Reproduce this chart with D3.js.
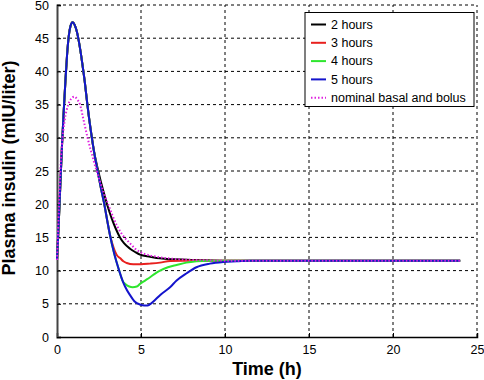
<!DOCTYPE html>
<html><head><meta charset="utf-8">
<script src="https://cdn.jsdelivr.net/npm/d3@7/dist/d3.min.js"></script>
<style>body{margin:0;background:#fff}svg{display:block}</style>
</head><body>
<svg id="c" width="484" height="380"></svg>
<script>
// ---- data ----
const xTicks = [0,5,10,15,20,25];
const yTicks = [0,5,10,15,20,25,30,35,40,45,50];
const seriesNames = ["2 hours","3 hours","4 hours","5 hours","nominal basal and bolus"];

const tBlue = [0,0.1,0.2,0.3,0.4,0.5,0.6,0.7,0.8,0.93,1.05,1.2,1.35,1.5,1.65,1.8,2.0,2.2,2.4,2.6,2.8,3.0,3.15,3.4,3.7,3.9,4.05,4.35,4.64,4.94,5.2,5.4,5.63,5.85,6.13,6.73,7.12,7.72,8.3,9.1,9.9,10.7,11.5,24];
const vBlue = [11.6,17,23,29,34,38.5,42.5,45.3,46.8,47.4,47.0,45.8,43.8,41.3,38.5,35.2,31.3,28.0,25.2,22.6,20.2,17.4,15.4,12.6,10.0,8.5,7.6,6.3,5.3,4.9,4.75,4.75,5.1,5.6,6.3,7.5,8.5,9.6,10.5,11.05,11.3,11.4,11.5,11.5];

const tBlack = [0,0.1,0.2,0.3,0.4,0.5,0.6,0.7,0.8,0.93,1.05,1.2,1.35,1.5,1.65,1.8,2.0,2.2,2.4,2.6,2.8,3.0,3.25,3.5,3.75,4.0,4.35,4.65,4.94,5.54,6.13,7,8,9,10,24];
const vBlack = [11.6,17,23,29,34,38.5,42.5,45.3,46.8,47.4,47.0,45.8,43.8,41.3,38.5,35.2,31.3,28.0,25.6,23.5,21.6,19.8,17.9,16.3,15.0,14.1,13.3,12.8,12.4,12.1,11.85,11.7,11.6,11.55,11.5,11.5];

const tRed = [0,0.1,0.2,0.3,0.4,0.5,0.6,0.7,0.8,0.93,1.05,1.2,1.35,1.5,1.65,1.8,2.0,2.2,2.4,2.6,2.8,3.0,3.15,3.3,3.45,3.6,3.75,3.95,4.15,4.54,5.0,5.54,6.13,6.73,7.5,24];
const vRed = [11.6,17,23,29,34,38.5,42.5,45.3,46.8,47.4,47.0,45.8,43.8,41.3,38.5,35.2,31.3,28.0,25.2,22.6,20.2,17.4,15.4,14.0,12.9,12.2,11.9,11.4,11.15,10.95,10.95,11.05,11.2,11.45,11.5,11.5];

const tGreen = [0,0.1,0.2,0.3,0.4,0.5,0.6,0.7,0.8,0.93,1.05,1.2,1.35,1.5,1.65,1.8,2.0,2.2,2.4,2.6,2.8,3.0,3.15,3.4,3.7,3.9,4.1,4.3,4.5,4.75,4.94,5.24,5.54,5.84,6.13,6.6,7.12,7.7,8.3,9,24];
const vGreen = [11.6,17,23,29,34,38.5,42.5,45.3,46.8,47.4,47.0,45.8,43.8,41.3,38.5,35.2,31.3,28.0,25.2,22.6,20.2,17.4,15.4,12.6,10.0,8.5,7.9,7.6,7.5,7.6,8.0,8.5,9.0,9.55,10.0,10.5,10.85,11.2,11.4,11.5,11.5];

const tNominal = [0,0.05,0.12,0.2,0.3,0.45,0.67,0.85,1.03,1.2,1.37,1.57,1.82,2.1,2.36,2.6,2.8,3.06,3.35,3.6,3.95,4.35,4.65,4.94,5.5,6,7,8,9,10,24];
const vNominal = [11.6,15,20,25,29,32.5,35,35.9,36.2,35.8,35,32.8,30,27.3,25,23.1,21.6,19.9,18,16.6,15.2,14.1,13.3,12.8,12.3,12.05,11.75,11.6,11.55,11.5,11.5];

const colors = ["#000000","#e8201e","#2ee62e","#1414cc","#e020e0"];

// ---- chart ----
const W = 484, H = 380;
const m = {l:57, r:7, t:5, b:43};
const svg = d3.select("#c");
const x = d3.scaleLinear().domain([0,25]).range([m.l, W-m.r]);
const y = d3.scaleLinear().domain([0,50]).range([H-m.b, m.t]);
const font = "'Liberation Sans', Arial, Helvetica, sans-serif";

// grid
const g = svg.append("g");
g.selectAll("line.gx").data(xTicks.filter(d=>d>0)).enter().append("line")
  .attr("x1",d=>x(d)).attr("x2",d=>x(d)).attr("y1",y(0)).attr("y2",y(50))
  .attr("stroke","#000").attr("stroke-width",1).attr("stroke-dasharray","3,3");
g.selectAll("line.gy").data(yTicks.filter(d=>d>0)).enter().append("line")
  .attr("x1",x(0)).attr("x2",x(25)).attr("y1",d=>y(d)).attr("y2",d=>y(d))
  .attr("stroke","#000").attr("stroke-width",1).attr("stroke-dasharray","3,3");

// axes
const xAxis = d3.axisBottom(x).tickValues(xTicks).tickSize(-4).tickPadding(8).tickFormat(d3.format("d"));
const yAxis = d3.axisLeft(y).tickValues(yTicks).tickSize(-4).tickPadding(8).tickFormat(d3.format("d"));
const gx = svg.append("g").attr("transform",`translate(0,${y(0)})`).call(xAxis);
const gy = svg.append("g").attr("transform",`translate(${x(0)},0)`).call(yAxis);
[gx,gy].forEach(a=>{
  a.select(".domain").attr("stroke","#000").attr("stroke-width",1.5);
  a.selectAll(".tick line").attr("stroke","#000");
  a.selectAll("text").attr("font-family",font).attr("font-size",12.5).attr("fill","#000");
});
gy.select(".domain").attr("stroke","#444").attr("stroke-width",2);

// lines
const line = d3.line().x(d=>x(d[0])).y(d=>y(d[1])).curve(d3.curveMonotoneX);
const series = [
  [tBlack,vBlack],[tRed,vRed],[tGreen,vGreen],[tBlue,vBlue],[tNominal,vNominal]
];
series.forEach((s,i)=>{
  const pts = s[0].map((t,j)=>[t,s[1][j]]);
  svg.append("path").datum(pts).attr("d",line).attr("fill","none")
    .attr("stroke",colors[i]).attr("stroke-width",2)
    .attr("stroke-dasharray", i===4 ? "1.5,2" : null);
});

// legend
const lg = svg.append("g");
lg.append("rect").attr("x",305).attr("y",12.5).attr("width",169).attr("height",94)
  .attr("fill","#fff").attr("stroke","#000").attr("stroke-width",1);
seriesNames.forEach((n,i)=>{
  const yy = 24.5 + i*18.3;
  lg.append("line").attr("x1",311).attr("x2",326).attr("y1",yy).attr("y2",yy)
    .attr("stroke",colors[i]).attr("stroke-width",2)
    .attr("stroke-dasharray", i===4 ? "1.5,2" : null);
  lg.append("text").attr("x",331).attr("y",yy).attr("dy","0.35em")
    .attr("font-family",font).attr("font-size",12.5).text(n);
});

// titles
svg.append("text").attr("x",(x(0)+x(25))/2).attr("y",375)
  .attr("text-anchor","middle").attr("font-family",font).attr("font-weight","bold")
  .attr("font-size",18).text("Time (h)");
svg.append("text").attr("transform",`translate(15,168) rotate(-90)`)
  .attr("text-anchor","middle").attr("font-family",font).attr("font-weight","bold")
  .attr("font-size",18).text("Plasma insulin (mIU/liter)");
</script>
</body></html>
